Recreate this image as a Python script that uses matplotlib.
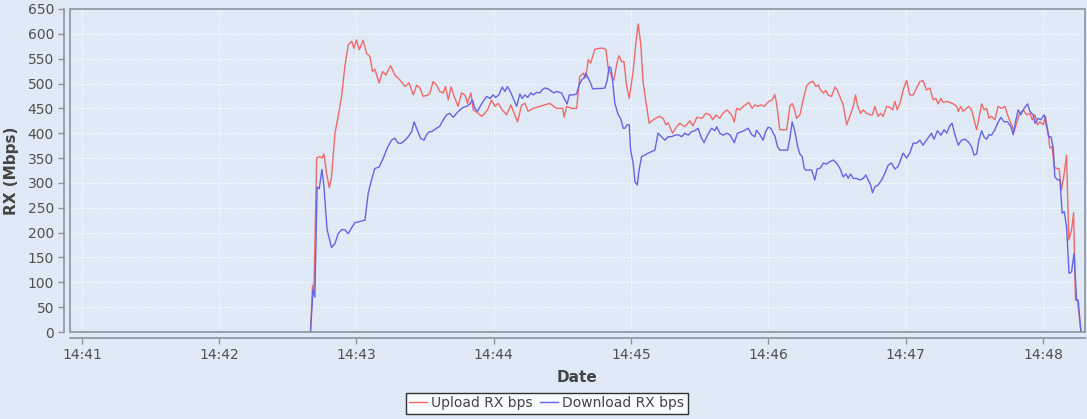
import pandas as pd
import matplotlib
matplotlib.use('Agg')
import matplotlib.pyplot as plt
import matplotlib.dates as mdates
from matplotlib.patches import Rectangle

# Secondes écoulées depuis 14:41:00 et débit en Mbps
upload_t = [99.9, 100.8, 101.4, 102.6, 104.0, 104.9, 105.8, 106.9, 108.1, 109.1,
            110.6, 112.0, 113.5, 114.9, 116.4, 117.9, 118.9, 120.0, 121.2, 122.9,
            124.4, 125.9, 127.0, 128.0, 129.9, 131.4, 132.8, 134.9, 136.8, 139.0,
            141.2, 143.0, 144.8, 146.3, 147.7, 149.2, 151.3, 152.1, 153.5, 155.0,
            156.4, 157.9, 158.9, 160.1, 161.3, 162.7, 164.4, 165.9, 167.4, 168.5,
            170.0, 171.0, 173.2, 174.7, 176.1, 177.6, 179.0, 180.5, 181.9, 183.7,
            185.6, 187.5, 188.9, 190.4, 192.2, 193.6, 195.0, 197.2, 200.1, 202.3,
            204.5, 207.4, 210.1, 210.8, 211.8, 214.0, 216.2, 217.6, 219.1, 220.2,
            221.3, 222.3, 224.2, 226.4, 227.8, 229.0, 230.0, 231.5, 232.5, 233.7,
            234.7, 235.9, 236.9, 238.0, 239.2, 240.2, 240.9, 242.1, 243.1, 244.2,
            245.3, 246.8, 247.9, 249.7, 250.8, 252.3, 254.0, 255.2, 256.2, 258.1,
            259.9, 261.3, 263.5, 265.7, 267.0, 268.8, 271.0, 272.7, 274.5, 275.7,
            277.1, 278.8, 280.1, 281.9, 283.9, 285.1, 286.1, 287.5, 289.0, 291.5,
            292.9, 294.1, 295.5, 296.7, 298.2, 300.2, 301.7, 302.8, 303.6, 305.0,
            306.5, 308.0, 309.4, 310.4, 311.3, 312.3, 313.8, 315.2, 316.7, 318.1,
            319.6, 320.8, 321.8, 322.8, 324.0, 325.1, 326.1, 327.6, 329.1, 330.1,
            331.2, 332.7, 334.2, 335.6, 337.1, 338.1, 339.0, 340.3, 341.4, 342.9,
            344.4, 345.5, 346.5, 348.0, 349.0, 350.2, 351.7, 353.1, 354.3, 355.3,
            356.3, 357.5, 358.9, 360.4, 361.8, 363.3, 364.8, 366.2, 367.6, 369.1,
            370.6, 372.0, 373.2, 374.2, 375.4, 376.4, 377.9, 379.3, 380.8, 382.3,
            383.0, 384.1, 385.1, 386.6, 387.6, 388.8, 389.9, 391.0, 392.0, 393.2,
            394.3, 395.4, 396.4, 397.5, 399.0, 400.4, 401.9, 403.4, 404.5, 406.0,
            407.4, 408.9, 409.9, 411.4, 412.8, 414.3, 415.3, 416.5, 417.6, 418.6,
            420.1, 421.1, 422.3, 423.0, 424.0, 424.9, 425.9, 427.0, 428.1, 429.3,
            430.3, 431.3, 432.5, 433.4, 434.2, 435.1, 436.6]
upload_v = [0, 94, 84, 350, 353, 350, 358, 320, 290, 312,
            400, 434, 474, 534, 578, 585, 571, 588, 568, 587,
            561, 554, 524, 529, 501, 524, 517, 536, 517, 507,
            494, 501, 477, 497, 491, 474, 477, 481, 504, 497,
            484, 481, 494, 467, 493, 474, 454, 481, 477, 460,
            481, 447, 440, 434, 440, 450, 467, 454, 460, 447,
            437, 457, 440, 423, 457, 460, 444, 450, 454, 457,
            460, 450, 450, 432, 454, 450, 450, 514, 521, 511,
            548, 541, 569, 571, 571, 568, 531, 514, 507, 538,
            556, 544, 544, 497, 470, 501, 524, 581, 620, 581,
            501, 454, 420, 427, 430, 434, 430, 417, 421, 400,
            413, 420, 413, 425, 415, 432, 430, 440, 437, 427,
            437, 430, 440, 447, 437, 423, 450, 447, 454, 462,
            450, 457, 454, 457, 454, 464, 467, 478, 460, 407,
            407, 407, 454, 460, 450, 430, 437, 467, 495, 502,
            504, 494, 497, 487, 481, 486, 477, 474, 493, 487,
            474, 457, 417, 434, 454, 477, 454, 440, 447, 440,
            437, 437, 454, 434, 440, 434, 454, 452, 447, 464,
            447, 460, 487, 506, 477, 477, 491, 504, 506, 487,
            491, 467, 470, 459, 470, 462, 464, 462, 459, 454,
            444, 454, 444, 450, 454, 447, 427, 407, 430, 459,
            447, 450, 430, 434, 427, 454, 450, 454, 437, 420,
            403, 427, 440, 447, 437, 440, 427, 437, 417, 423,
            417, 434, 400, 370, 373, 333, 329, 329, 286, 319,
            356, 185, 205, 240, 64, 64, 0]

download_t = [99.9, 101.0, 101.8, 102.8, 103.7, 104.9, 105.8, 106.6, 107.2, 109.1,
              110.6, 112.0, 113.5, 114.9, 116.4, 117.9, 119.3, 121.2, 122.7, 123.7,
              125.1, 126.6, 128.0, 129.9, 131.7, 133.4, 135.3, 136.8, 138.2, 139.7,
              141.2, 142.6, 144.1, 145.2, 146.5, 148.0, 149.5, 150.6, 151.8, 152.8,
              155.0, 156.4, 157.9, 159.4, 160.8, 162.3, 163.7, 165.2, 166.6, 168.1,
              169.6, 170.7, 171.7, 172.9, 174.4, 175.8, 176.9, 178.3, 179.7, 180.8,
              182.2, 183.7, 184.9, 186.0, 187.5, 188.5, 190.0, 191.4, 192.4, 193.6,
              194.8, 196.2, 197.2, 198.7, 200.1, 201.1, 202.3, 203.8, 205.3, 206.4,
              207.4, 209.6, 211.1, 212.1, 213.0, 214.7, 216.2, 217.3, 218.4, 219.4,
              220.2, 221.3, 222.3, 223.2, 224.9, 227.1, 228.6, 229.6, 230.4, 231.2,
              231.9, 232.9, 234.4, 235.4, 236.6, 237.3, 238.3, 239.2, 239.8, 240.9,
              241.7, 242.7, 243.5, 244.6, 246.0, 247.5, 249.0, 250.4, 251.8, 253.3,
              254.8, 256.2, 257.7, 259.1, 260.6, 262.1, 263.5, 265.0, 266.4, 267.9,
              269.3, 270.5, 271.9, 273.4, 275.2, 276.6, 277.4, 278.8, 280.2, 281.7,
              283.2, 285.1, 286.5, 288.3, 289.7, 291.2, 292.7, 294.1, 294.8, 296.3,
              297.7, 298.8, 299.9, 301.1, 302.1, 302.8, 304.0, 305.0, 307.2, 308.4,
              309.4, 310.4, 311.6, 312.8, 313.8, 314.8, 315.7, 316.4, 317.4, 318.9,
              320.3, 321.3, 322.8, 324.0, 325.4, 326.9, 328.3, 329.8, 331.2, 332.7,
              333.9, 334.9, 335.9, 337.1, 338.6, 340.0, 341.4, 342.6, 343.6, 344.7,
              345.5, 346.5, 348.0, 349.5, 350.9, 352.4, 353.8, 355.3, 356.7, 358.9,
              360.4, 361.8, 363.3, 364.8, 366.2, 367.6, 369.1, 371.3, 372.4, 373.9,
              375.4, 376.8, 377.9, 379.3, 380.3, 381.5, 383.0, 384.4, 385.9, 387.3,
              388.8, 389.9, 391.0, 392.0, 393.2, 394.3, 395.4, 396.4, 397.5, 399.0,
              400.2, 401.6, 403.0, 404.5, 406.0, 407.0, 408.0, 409.2, 410.3, 411.8,
              413.3, 414.3, 415.7, 416.5, 417.9, 419.1, 420.5, 421.6, 422.6, 423.5,
              424.5, 425.2, 426.4, 427.4, 428.4, 429.3, 430.3, 431.4, 432.5, 433.6,
              434.7, 435.4, 436.6]
download_v = [0, 85, 70, 292, 288, 327, 292, 239, 205, 170,
              178, 198, 206, 206, 198, 210, 220, 222, 224, 225,
              279, 306, 329, 332, 350, 370, 386, 390, 380, 380,
              386, 393, 403, 423, 407, 390, 386, 397, 403, 403,
              410, 414, 427, 437, 440, 432, 440, 447, 452, 454,
              459, 467, 450, 444, 457, 467, 474, 470, 477, 472,
              477, 493, 484, 494, 481, 470, 454, 479, 470, 477,
              472, 481, 477, 482, 481, 487, 491, 489, 484, 481,
              484, 481, 467, 459, 477, 477, 479, 497, 507, 511,
              521, 511, 501, 489, 490, 490, 491, 507, 534, 531,
              507, 460, 437, 430, 410, 410, 417, 417, 366, 340,
              302, 296, 326, 353, 356, 360, 363, 366, 400, 393,
              386, 393, 393, 396, 397, 393, 400, 396, 403, 405,
              410, 393, 381, 396, 410, 405, 413, 400, 396, 400,
              397, 381, 400, 403, 406, 410, 397, 393, 406, 397,
              386, 403, 412, 410, 400, 395, 373, 366, 366, 366,
              390, 423, 403, 373, 358, 353, 329, 326, 326, 326,
              306, 328, 330, 340, 338, 343, 346, 340, 330, 312,
              318, 309, 318, 309, 309, 306, 309, 316, 306, 296,
              280, 292, 296, 306, 319, 336, 340, 328, 333, 360,
              350, 360, 380, 380, 386, 376, 386, 400, 388, 405,
              396, 407, 400, 415, 420, 397, 376, 386, 388, 383,
              373, 356, 358, 386, 405, 392, 388, 397, 396, 407,
              420, 432, 423, 423, 413, 397, 423, 447, 437, 450,
              459, 444, 437, 420, 430, 427, 437, 413, 392, 393,
              370, 312, 306, 306, 239, 242, 212, 118, 121, 158,
              64, 64, 0]

debut = pd.Timestamp('2024-01-01 14:41:00')
up_dates = debut + pd.to_timedelta(upload_t, unit='s')
down_dates = debut + pd.to_timedelta(download_t, unit='s')

fond = '#dfeaf6'
fig = plt.figure(figsize=(10.87, 4.19), dpi=100, facecolor=fond)
ax = fig.add_axes([0.0644, 0.2076, 0.9336, 0.771])
ax.set_facecolor(fond)

ax.plot(up_dates, upload_v, color='#f06a6a', linewidth=1.0, label='Upload RX bps')
ax.plot(down_dates, download_v, color='#6464e6', linewidth=1.0, label='Download RX bps')

ax.set_xlim(debut - pd.Timedelta(seconds=5.2), debut + pd.Timedelta(seconds=438.3))
ax.set_ylim(0, 650)
ax.set_yticks(range(0, 651, 50))
ax.xaxis.set_major_locator(mdates.MinuteLocator())
ax.xaxis.set_major_formatter(mdates.DateFormatter('%H:%M'))

ax.grid(True, color='white', linestyle=(0, (2, 2)), linewidth=0.6)
ax.set_axisbelow(True)

# bordure du graphe + axes décalés comme dans JFreeChart
for s in ax.spines.values():
    s.set_visible(False)
ax.add_patch(Rectangle((0, 0), 1, 1, transform=ax.transAxes, fill=False,
                       edgecolor='#8c939c', linewidth=1.2, zorder=5, clip_on=False))
for cote in ['left', 'bottom']:
    ax.spines[cote].set_visible(True)
    ax.spines[cote].set_position(('outward', 4))
    ax.spines[cote].set_color('#8c939c')
    ax.spines[cote].set_linewidth(1.2)

ax.tick_params(axis='both', colors='#8c939c', labelcolor='#505050', labelsize=10, length=4, width=1)

ax.set_xlabel('Date', fontsize=11, fontweight='bold', color='#444444', labelpad=6)
ax.set_ylabel('RX (Mbps)', fontsize=11, fontweight='bold', color='#444444', labelpad=6)

leg = fig.legend(loc='center', bbox_to_anchor=(0.503, 0.038), ncol=2, fontsize=10,
                 frameon=True, fancybox=False, handlelength=1.3, handletextpad=0.3,
                 columnspacing=0.5, borderpad=0.25)
leg.get_frame().set_edgecolor('black')
leg.get_frame().set_facecolor('white')
leg.get_frame().set_linewidth(1.0)
for t in leg.get_texts():
    t.set_color('#444444')

plt.savefig('out.png', dpi=100, facecolor=fond)
